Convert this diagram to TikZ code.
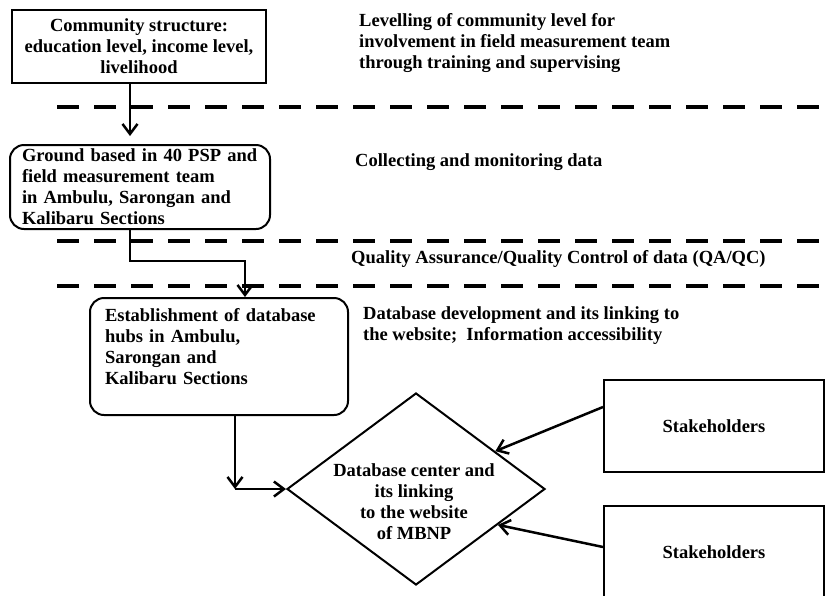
\documentclass[tikz,border=0pt]{standalone}
\usepackage{fontspec}
\setmainfont{Liberation Serif}
\usetikzlibrary{arrows.meta,shapes.geometric,calc}

\begin{document}
\begin{tikzpicture}[
        x=1pt, y=-1pt,
        >={Straight Barb[length=10pt,width=15pt]},
        every node/.style={font=\bfseries\fontsize{18.5}{21}\selectfont},
        box/.style={rectangle, draw=black, line width=2pt, align=center, minimum width=254pt, minimum height=73pt, inner sep=0pt},
        roundbox/.style={rectangle, rounded corners=14pt, draw=black, line width=2pt, align=left, inner xsep=12pt, inner ysep=2pt},
        decision/.style={diamond, draw=black, line width=2pt, minimum width=258pt, minimum height=192pt, inner sep=0pt},
        side/.style={rectangle, draw=black, line width=2pt, minimum width=220pt, minimum height=92pt},
        note/.style={anchor=west, align=left, inner sep=0pt},
        arrow/.style={->, line width=2.5pt},
        divider/.style={line width=4pt, dash pattern=on 22pt off 15pt}
    ]
    \useasboundingbox (0,0) rectangle (830,595);

    \node[box] (a) at (139,46.5) {Community structure:\\education level, income level,\\livelihood};
    \node[roundbox, text width=236pt, minimum height=84pt] (b) at (140,187) {Ground based in 40 PSP and\\field measurement team\\in Ambulu, Sarongan and\\Kalibaru Sections};
    \node[roundbox, text width=228pt, inner xsep=15pt, minimum height=117pt] (c) at (219,356.5) {Establishment of database\\hubs in Ambulu,\\Sarongan and\\Kalibaru Sections\\ \mbox{}};
    \node[decision] (d) at (416,489) {};
    \node[align=center, inner sep=0pt] (dt) at (414,502) {Database center and\\its linking\\to the website\\of MBNP};

    \node[side] (s1) at (714,426) {Stakeholders};
    \node[side] (s2) at (714,552) {Stakeholders};

    \node[note] (t1) at (359,43) {Levelling of community level for\\involvement in field measurement team\\through training and supervising};
    \node[note] (t2) at (355,162) {Collecting and monitoring data};
    \node[note] (t3) at (351,259) {Quality Assurance/Quality Control of data (QA/QC)};
    \node[note] (t4) at (363,325.5) {Database development and its linking to\\the website;\ \ Information accessibility};

    \foreach \y in {107,241,286}
        \draw[divider] (57,\y) -- (830,\y);

    \coordinate (j) at ([xshift=16pt]c.south |- d.west);

    \draw[arrow, shorten >=8pt] ([xshift=-9pt]a.south) -- ([xshift=-9pt]a.south |- b.north);
    \draw[arrow] ([xshift=-10pt]b.south) -- ++(0,31) -| ([xshift=26pt]c.north);
    \draw[arrow] ([xshift=16pt]c.south) -- (j);
    \draw[arrow] (j) -- (d.west);

    \draw[arrow] ([yshift=19pt]s1.west) -- ($(d.north)!0.61!(d.east)$);
    \draw[arrow] ([yshift=5pt]s2.west) -- ($(d.east)!0.37!(d.south)$);

\end{tikzpicture}
\end{document}
